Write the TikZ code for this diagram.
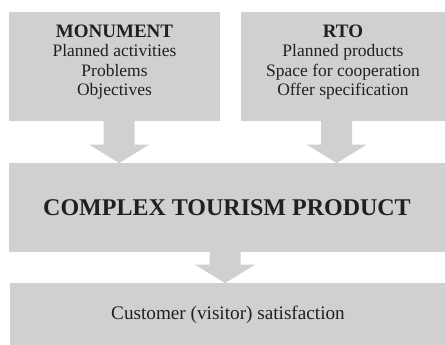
\documentclass[tikz,border=0pt]{standalone}
\usepackage{fontspec}
\setmainfont{Liberation Serif}
\usepackage{xcolor}
\usepackage{tikz}
\usetikzlibrary{positioning, calc}
\definecolor{BoxGry}{HTML}{D0D0D2}
\definecolor{InkGry}{HTML}{231F20}

\tikzset{
  panel/.style={fill=BoxGry, draw=none, inner sep=0pt, text=InkGry},
  boxtext/.style={align=center, inner sep=0pt, text=InkGry,
                  font=\fontsize{17.5}{19.5}\selectfont},
  flow/.style={fill=BoxGry, draw=none},
}

\begin{document}
\begin{tikzpicture}[x=1pt, y=1pt]
      \useasboundingbox (0,0) rectangle (445,345);
      % ── input boxes ──────────────────────────────────────────────────────────
      \node[panel, minimum width=211pt, minimum height=109pt] (mon) at (114.5,278.5) {};
      \node[panel, minimum width=204pt, minimum height=109pt] (rto) at (343,278.5) {};
      % ── product and outcome bands ────────────────────────────────────────────
      \node[panel, minimum width=436pt, minimum height=88.4pt,
            font=\fontsize{24}{28}\selectfont\bfseries]
        (ctp) at (227,137.5) {COMPLEX TOURISM PRODUCT};
      \node[panel, minimum width=436pt, minimum height=62.3pt,
            font=\fontsize{19.2}{22}\selectfont]
        (cvs) at (228,30.5) {Customer (visitor) satisfaction};
      % ── box contents ─────────────────────────────────────────────────────────
      \node[boxtext, anchor=north] (montxt) at ($(mon.north)+(0,-12.5)$)
        {{\fontsize{19}{19.5}\selectfont\bfseries MONUMENT}\\
         Planned activities\\Problems\\Objectives};
      \node[boxtext, anchor=north] (rtotxt) at ($(rto.north)+(0,-12.5)$)
        {{\fontsize{19}{19.5}\selectfont\bfseries RTO}\\
         Planned products\\Space for cooperation\\Offer specification};
      % ── block arrows between the boxes ───────────────────────────────────────
      \foreach \a/\b/\d in {mon/ctp/4.7, rto/ctp/-6.3, ctp/cvs/-2} {
        \coordinate (t) at ($(\a.south)+(\d,0)$);
        \coordinate (h) at (t |- \b.north);
        \fill[flow] ($(t)+(-15.5,0)$) -- ($(h)+(-15.5,18.5)$) -- ($(h)+(-30,18.5)$)
          -- (h) -- ($(h)+(30,18.5)$) -- ($(h)+(15.5,18.5)$) -- ($(t)+(15.5,0)$) -- cycle;
      }
    \end{tikzpicture}
\end{document}
